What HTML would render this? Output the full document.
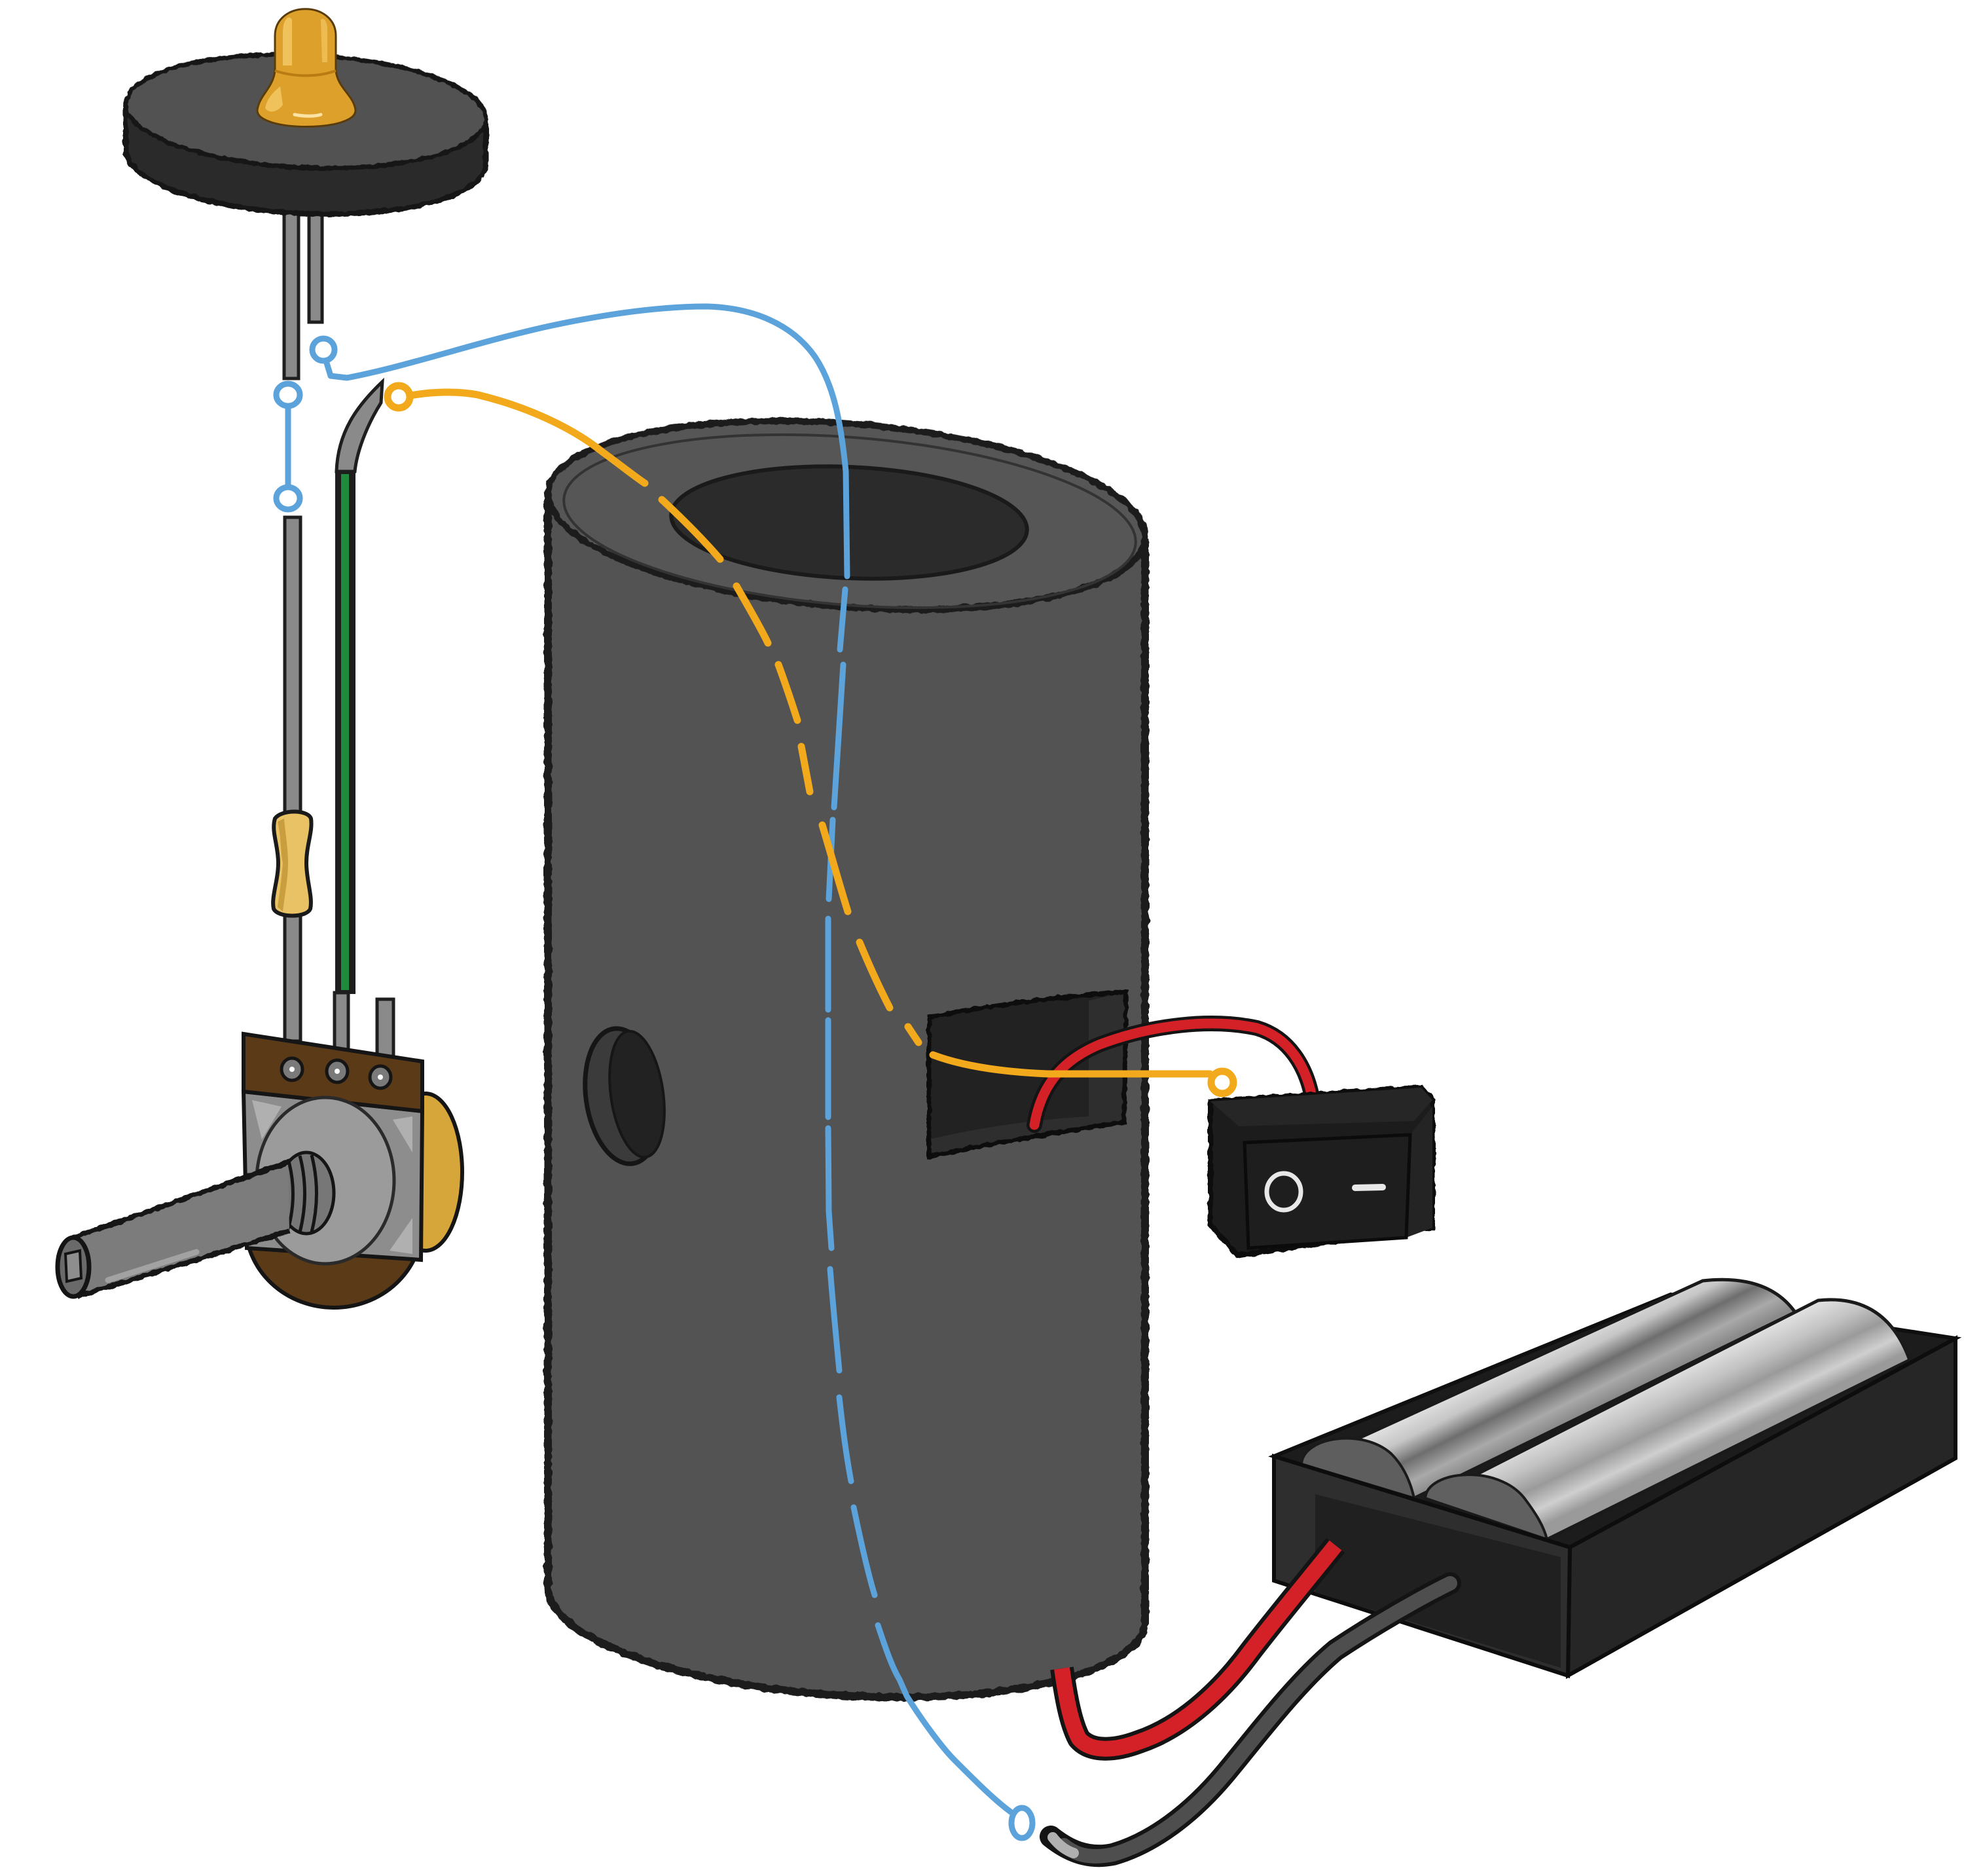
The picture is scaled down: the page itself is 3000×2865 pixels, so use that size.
<!DOCTYPE html>
<html><head><meta charset="utf-8"><style>html,body{margin:0;padding:0;background:#fff}svg{display:block}</style></head>
<body>
<svg width="3000" height="2865" viewBox="0 0 3000 2865" xmlns="http://www.w3.org/2000/svg">
<defs>
<filter id="r" filterUnits="userSpaceOnUse" x="0" y="0" width="3000" height="2865">
<feTurbulence type="fractalNoise" baseFrequency="0.09" numOctaves="2" seed="3"/>
<feDisplacementMap in="SourceGraphic" scale="6" xChannelSelector="R" yChannelSelector="G"/>
</filter>
<linearGradient id="b1" gradientUnits="userSpaceOnUse" x1="2330" y1="2065" x2="2385" y2="2175">
<stop offset="0" stop-color="#e6e6e6"/><stop offset="0.3" stop-color="#c6c6c6"/><stop offset="0.55" stop-color="#6e6e6e"/><stop offset="0.8" stop-color="#a9a9a9"/><stop offset="1" stop-color="#8a8a8a"/>
</linearGradient>
<linearGradient id="b2" gradientUnits="userSpaceOnUse" x1="2490" y1="2125" x2="2545" y2="2240">
<stop offset="0" stop-color="#e2e2e2"/><stop offset="0.3" stop-color="#c2c2c2"/><stop offset="0.55" stop-color="#9a9a9a"/><stop offset="0.8" stop-color="#cfcfcf"/><stop offset="1" stop-color="#9a9a9a"/>
</linearGradient>
</defs>

<!-- ===== Cylinder ===== -->
<path d="M837,751 L837,2425 A457,140 3.5 0 0 1749,2481 L1749,823 Z" fill="#535353"/>
<path d="M837,751 L837,2425 A457,140 3.5 0 0 1749,2481 L1749,823" fill="none" stroke="#1b1b1b" stroke-width="12" filter="url(#r)"/>
<ellipse cx="1293" cy="787" rx="457" ry="140" transform="rotate(4.5 1293 787)" fill="#565656"/>
<ellipse cx="1293" cy="787" rx="457" ry="140" transform="rotate(4.5 1293 787)" fill="none" stroke="#1b1b1b" stroke-width="10" filter="url(#r)"/>
<ellipse cx="1298" cy="796" rx="438" ry="128" transform="rotate(4.5 1298 796)" fill="none" stroke="#333" stroke-width="4"/>
<ellipse cx="1297" cy="798" rx="272" ry="85" transform="rotate(2.5 1297 798)" fill="#2b2b2b" stroke="#1a1a1a" stroke-width="6"/>
<!-- side hole -->
<ellipse cx="952" cy="1674" rx="57" ry="104" transform="rotate(-8 952 1674)" fill="#3b3b3b" stroke="#151515" stroke-width="7"/>
<ellipse cx="973" cy="1671" rx="40" ry="97" transform="rotate(-8 973 1671)" fill="#222" stroke="#161616" stroke-width="4"/>
<!-- switch slot -->
<path d="M1419,1553 Q1570,1525 1720,1515 L1717,1714 Q1570,1735 1419,1766 Z" fill="#222"/>
<path d="M1663,1528 L1720,1515 L1717,1700 L1663,1705 Z" fill="#2e2e2e"/>
<path d="M1419,1740 Q1540,1712 1663,1705 L1717,1700 L1717,1714 Q1570,1735 1419,1766 Z" fill="#2e2e2e"/>
<path d="M1419,1553 Q1570,1525 1720,1515 L1717,1714 Q1570,1735 1419,1766 Z" fill="none" stroke="#0f0f0f" stroke-width="7" filter="url(#r)"/>

<!-- ===== Battery box ===== -->
<path d="M1946,2224 L2552,1977 L2987,2044 L2398,2363 Z" fill="#1c1c1c" stroke="#0f0f0f" stroke-width="6"/>
<path d="M1988,2236 Q2010,2200 2061,2203 L2601,1956 Q2700,1945 2742,2004 L2160,2288 Z" fill="url(#b1)" stroke="#1a1a1a" stroke-width="5"/>
<path d="M1988,2236 C1990,2195 2080,2180 2125,2220 C2145,2240 2155,2265 2160,2288 Z" fill="#5e5e5e" stroke="#1a1a1a" stroke-width="4"/>
<path d="M2177,2288 Q2200,2255 2237,2261 L2777,1986 Q2880,1975 2917,2077 L2363,2351 Z" fill="url(#b2)" stroke="#1a1a1a" stroke-width="5"/>
<path d="M2177,2288 C2180,2245 2290,2235 2330,2290 C2345,2310 2358,2330 2363,2351 Z" fill="#606060" stroke="#1a1a1a" stroke-width="4"/>
<path d="M2398,2363 L2987,2044 L2987,2227 L2395,2559 Z" fill="#262626" stroke="#0d0d0d" stroke-width="6"/>
<path d="M1946,2224 L2398,2363 L2395,2559 L1946,2414 Z" fill="#2e2e2e" stroke="#0d0d0d" stroke-width="6"/>
<path d="M2009,2282 L2384,2378 L2384,2547 L2009,2432 Z" fill="#202020"/>

<!-- red wire battery -> cylinder bottom -->
<path d="M2040,2360 C2000,2410 1950,2470 1910,2522 C1860,2590 1800,2640 1740,2660 C1700,2675 1665,2675 1648,2655 C1635,2630 1628,2590 1622,2548" fill="none" stroke="#141414" stroke-width="36" stroke-linejoin="round"/>
<path d="M2040,2360 C2000,2410 1950,2470 1910,2522 C1860,2590 1800,2640 1740,2660 C1700,2675 1665,2675 1648,2655 C1635,2630 1628,2590 1622,2548" fill="none" stroke="#D42027" stroke-width="24" stroke-linejoin="round"/>
<!-- dark wire -->
<path d="M2215,2418 C2170,2440 2100,2480 2040,2520 C1980,2570 1920,2650 1871,2709 C1820,2770 1760,2815 1700,2832 C1660,2840 1630,2825 1605,2805" fill="none" stroke="#141414" stroke-width="34" stroke-linecap="round"/>
<path d="M2215,2418 C2170,2440 2100,2480 2040,2520 C1980,2570 1920,2650 1871,2709 C1820,2770 1760,2815 1700,2832 C1660,2840 1640,2830 1625,2818" fill="none" stroke="#4e4e4e" stroke-width="22" stroke-linecap="round"/>
<path d="M1640,2830 C1625,2825 1615,2815 1608,2806" fill="none" stroke="#b0b0b0" stroke-width="16" stroke-linecap="round"/>

<!-- red wire slot -> switch -->
<path d="M1580,1718 C1590,1660 1620,1620 1680,1595 C1760,1565 1850,1555 1920,1570 C1970,1585 1995,1630 2004,1675" fill="none" stroke="#141414" stroke-width="24" stroke-linecap="round"/>
<path d="M1580,1718 C1590,1660 1620,1620 1680,1595 C1760,1565 1850,1555 1920,1570 C1970,1585 1995,1630 2004,1675" fill="none" stroke="#D42027" stroke-width="15" stroke-linecap="round"/>

<!-- ===== Switch ===== -->
<path d="M1849,1682 L2171,1661 L2188,1680 L2188,1875 L1890,1917 L1849,1871 Z" fill="#1b1b1b" stroke="#0b0b0b" stroke-width="8" filter="url(#r)"/>
<path d="M1849,1682 L2171,1661 L2188,1680 L2160,1712 L1892,1720 Z" fill="#262626"/>
<path d="M2154,1733 L2188,1690 L2188,1875 L2148,1890 Z" fill="#242424"/>
<path d="M1901,1745 L2154,1733 L2148,1890 L1907,1906 Z" fill="#1e1e1e" stroke="#0b0b0b" stroke-width="5"/>
<ellipse cx="1961" cy="1820" rx="26" ry="28" fill="none" stroke="#e8e8e8" stroke-width="7"/>
<line x1="2070" y1="1814" x2="2112" y2="1813" stroke="#e8e8e8" stroke-width="10" stroke-linecap="round"/>

<!-- ===== Blue wire ===== -->
<g fill="none" stroke="#5BA3DA" stroke-width="9" stroke-linecap="round" stroke-linejoin="round">
<path d="M498,551 L505,574 L530,577 C620,560 720,525 830,500 C930,478 1010,468 1080,468 C1150,470 1210,495 1245,545 C1275,590 1285,650 1292,720 L1294,880"/>
<path d="M1291,900 L1283,992"/>
<path d="M1288,1015 L1274,1233"/>
<path d="M1272,1252 L1266,1373"/>
<path d="M1265,1403 L1265,1542"/>
<path d="M1265,1558 L1265,1706"/>
<path d="M1265,1723 L1266,1850 L1270,1906"/>
<path d="M1268,1938 C1272,1990 1277,2040 1282,2093"/>
<path d="M1282,2134 C1287,2180 1293,2225 1300,2262"/>
<path d="M1304,2302 C1314,2350 1325,2400 1336,2436"/>
<path d="M1341,2482 C1352,2515 1362,2545 1374,2565 L1385,2590 C1410,2630 1440,2670 1458,2688 C1490,2720 1520,2750 1545,2768"/>
<ellipse cx="494" cy="534" rx="17" ry="17"/>
<ellipse cx="1561" cy="2784" rx="16" ry="23"/>
<ellipse cx="440" cy="603" rx="18" ry="17"/>
<ellipse cx="440" cy="761" rx="18" ry="17"/>
<line x1="440" y1="620" x2="440" y2="744"/>
</g>

<!-- ===== Orange wire ===== -->
<g fill="none" stroke="#F2A91B" stroke-width="11" stroke-linecap="round" stroke-linejoin="round">
<ellipse cx="609" cy="606" rx="17" ry="17"/>
<path d="M627,604 C660,598 700,597 730,603 C800,620 870,650 920,690 C950,712 970,728 985,738"/>
<path d="M1011,763 C1040,790 1075,825 1100,854"/>
<path d="M1125,895 C1142,925 1160,955 1173,982"/>
<path d="M1189,1015 C1200,1045 1210,1075 1218,1100"/>
<path d="M1224,1140 L1237,1209"/>
<path d="M1256,1260 C1268,1300 1282,1350 1295,1392"/>
<path d="M1313,1439 C1328,1475 1343,1508 1359,1539"/>
<path d="M1387,1568 L1403,1592"/>
<path d="M1425,1611 C1470,1628 1530,1637 1600,1640 L1848,1640"/>
<ellipse cx="1867" cy="1653" rx="17" ry="17"/>
</g>

<!-- ===== Lamp ===== -->
<rect x="434" y="322" width="22" height="256" fill="#8a8a8a" stroke="#1e1e1e" stroke-width="5"/>
<rect x="472" y="322" width="20" height="170" fill="#8a8a8a" stroke="#1e1e1e" stroke-width="5"/>
<path d="M192,158 L192,228 A275,86 2.5 0 0 742,252 L742,182 Z" fill="#2a2a2a"/>
<path d="M192,158 L192,228 A275,86 2.5 0 0 742,252 L742,182" fill="none" stroke="#151515" stroke-width="8" filter="url(#r)"/>
<ellipse cx="467" cy="170" rx="275" ry="86" transform="rotate(2.5 467 170)" fill="#525252"/>
<ellipse cx="467" cy="170" rx="275" ry="86" transform="rotate(2.5 467 170)" fill="none" stroke="#151515" stroke-width="7" filter="url(#r)"/>
<path d="M420,108 L420,55 C420,0 513,0 513,55 L513,108 C516,135 540,145 543,168 C545,202 391,202 393,168 C396,145 417,135 420,108 Z" fill="#DDA02A" stroke="#5a3c0a" stroke-width="3"/>
<path d="M432,100 L432,50 C432,28 442,22 446,30 L446,100 Z" fill="#F6CE6E" opacity="0.75"/>
<path d="M500,95 L500,45 C500,32 494,26 490,30 L492,95 Z" fill="#F6CE6E" opacity="0.6"/>
<path d="M420,108 C450,118 485,118 513,108" fill="none" stroke="#b87c12" stroke-width="4"/>
<path d="M405,165 C408,150 418,140 428,132 L432,160 C425,170 412,175 405,165 Z" fill="#F6CE6E" opacity="0.75"/>
<path d="M450,175 C465,178 480,178 490,175" fill="none" stroke="#FBE3A6" stroke-width="5" stroke-linecap="round"/>

<!-- lower left post + resistor -->
<rect x="435" y="790" width="24" height="800" fill="#8a8a8a" stroke="#1e1e1e" stroke-width="5"/>
<path d="M420,1250 C430,1236 470,1236 475,1250 C478,1270 468,1290 468,1318 C468,1345 478,1370 474,1388 C468,1402 425,1402 418,1388 C414,1370 425,1345 425,1318 C425,1290 414,1270 420,1250 Z" fill="#E8C264" stroke="#1a1a1a" stroke-width="6"/>
<path d="M424,1255 C430,1280 428,1300 432,1318 C430,1345 426,1370 424,1385 L432,1392 C436,1360 440,1340 440,1318 C440,1295 436,1275 434,1250 Z" fill="#C99E3E"/>
<!-- green lead -->
<path d="M514,720 C516,660 545,620 584,583 L582,615 C560,650 545,690 542,720 Z" fill="#8a8a8a" stroke="#1e1e1e" stroke-width="5"/>
<rect x="512" y="718" width="31" height="800" fill="#1e1e1e"/>
<rect x="521" y="724" width="12" height="788" fill="#1f8b3b"/>
<rect x="511" y="1516" width="21" height="90" fill="#8a8a8a" stroke="#1e1e1e" stroke-width="5"/>
<rect x="576" y="1526" width="25" height="90" fill="#8a8a8a" stroke="#1e1e1e" stroke-width="5"/>

<!-- ===== Potentiometer ===== -->
<ellipse cx="510" cy="1870" rx="135" ry="127" fill="#5b3a17" stroke="#151515" stroke-width="6"/>
<ellipse cx="650" cy="1790" rx="56" ry="120" fill="#D7A63A" stroke="#151515" stroke-width="6"/>
<path d="M372,1667 L645,1697 L643,1924 L377,1906 Z" fill="#8d8d8d" stroke="#151515" stroke-width="6"/>
<path d="M385,1680 L430,1690 L400,1740 Z M630,1705 L600,1710 L630,1760 Z M390,1890 L430,1895 L395,1850 Z M630,1915 L595,1910 L630,1860 Z" fill="#b0b0b0"/>
<path d="M372,1579 L645,1621 L645,1697 L372,1667 Z" fill="#5b3a18" stroke="#151515" stroke-width="6"/>
<g fill="#7a7a7a" stroke="#151515" stroke-width="5">
<ellipse cx="446" cy="1633" rx="16" ry="17"/>
<ellipse cx="515" cy="1636" rx="16" ry="17"/>
<ellipse cx="581" cy="1645" rx="16" ry="17"/>
</g>
<g fill="#fff"><circle cx="446" cy="1633" r="4"/><circle cx="515" cy="1636" r="4"/><circle cx="581" cy="1645" r="4"/></g>
<ellipse cx="497" cy="1803" rx="105" ry="127" fill="#9b9b9b" stroke="#2a2a2a" stroke-width="5"/>
<ellipse cx="468" cy="1822" rx="42" ry="62" fill="#777" stroke="#151515" stroke-width="5"/>
<g fill="none" stroke="#151515" stroke-width="5">
<path d="M440,1770 Q455,1822 440,1878"/>
<path d="M458,1765 Q473,1822 458,1882"/>
<path d="M476,1764 Q491,1822 476,1882"/>
</g>
<path d="M112,1890 L440,1775 L442,1880 L118,1980 Z" fill="#7c7c7c"/>
<path d="M112,1890 L440,1775 M118,1980 L442,1880" fill="none" stroke="#141414" stroke-width="8" filter="url(#r)"/>
<line x1="165" y1="1955" x2="300" y2="1912" stroke="#a2a2a2" stroke-width="9" stroke-linecap="round"/>
<ellipse cx="112" cy="1935" rx="24" ry="45" fill="#6a6a6a" stroke="#141414" stroke-width="7"/>
<path d="M100,1915 L122,1910 L124,1952 L102,1957 Z" fill="#8e8e8e" stroke="#141414" stroke-width="4"/>
</svg>
</body></html>
